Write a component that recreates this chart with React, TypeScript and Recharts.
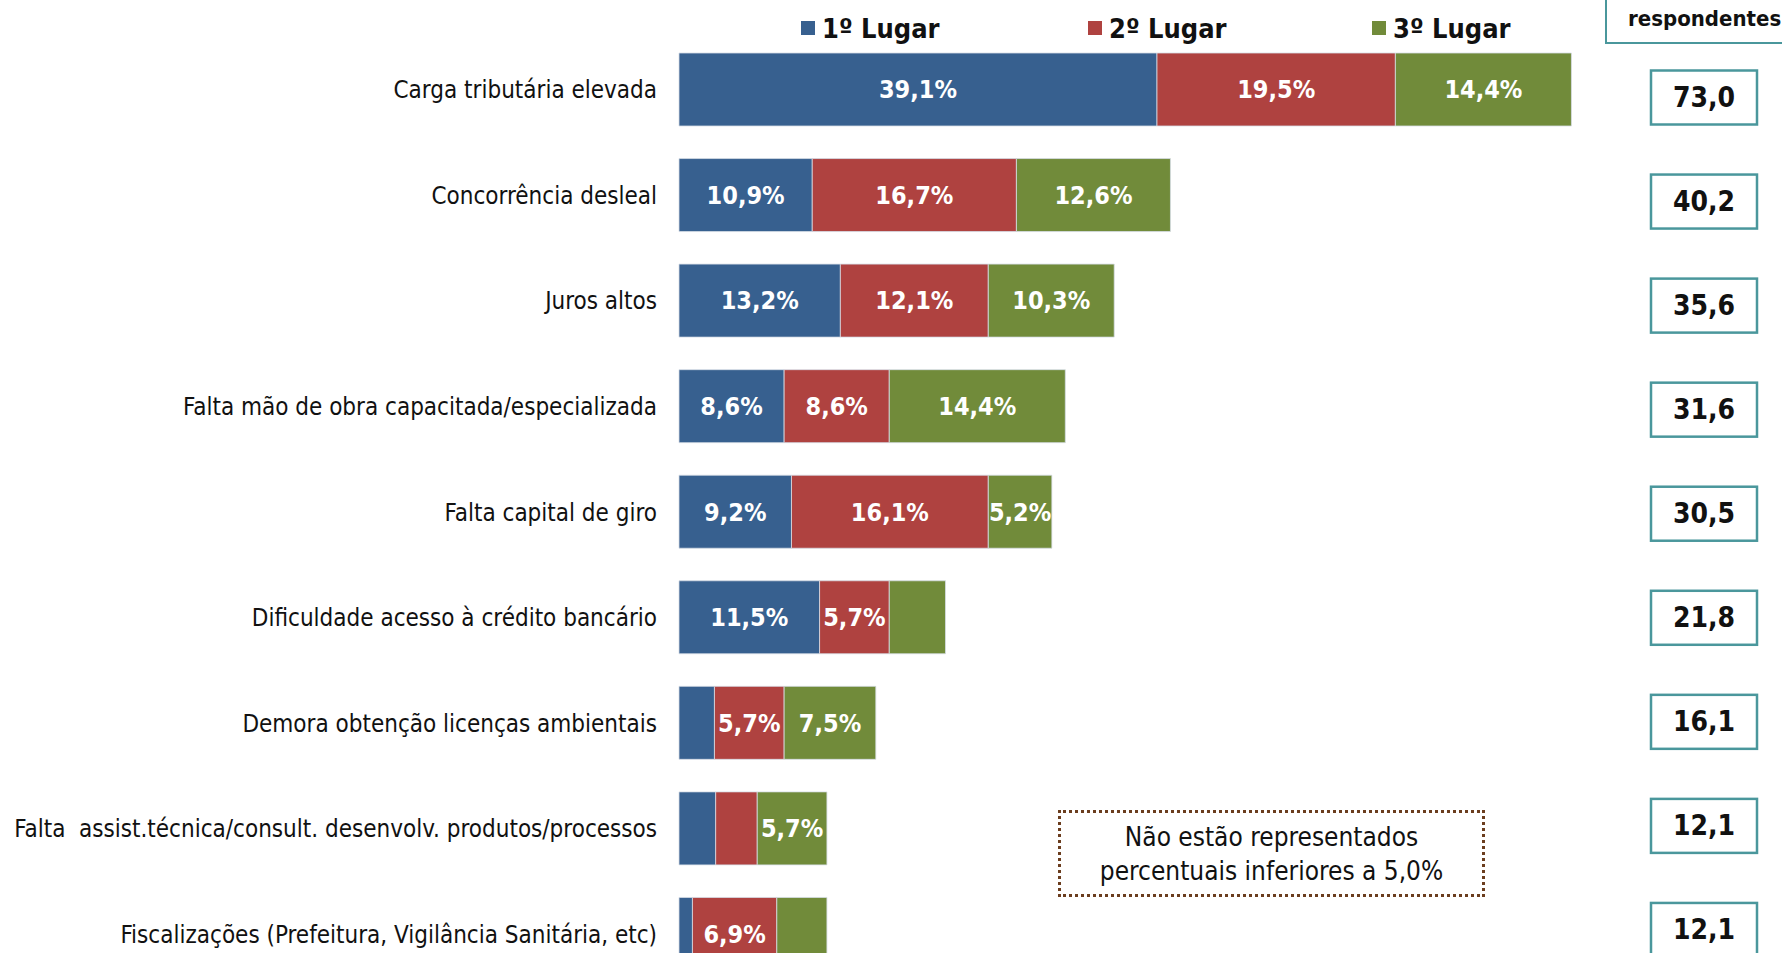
import { Bar, BarChart, LabelList, XAxis, YAxis } from 'recharts'

const categories = [
  'Carga tributária elevada',
  'Concorrência desleal',
  'Juros altos',
  'Falta mão de obra capacitada/especializada',
  'Falta capital de giro',
  'Dificuldade acesso à crédito bancário',
  'Demora obtenção licenças ambientais',
  'Falta\u00a0\u00a0assist.técnica/consult. desenvolv. produtos/processos',
  'Fiscalizações (Prefeitura, Vigilância Sanitária, etc)',
]
const primeiro = [39.1, 10.9, 13.2, 8.6, 9.2, 11.5, 2.9, 3.0, 1.1]
const segundo = [19.5, 16.7, 12.1, 8.6, 16.1, 5.7, 5.7, 3.4, 6.9]
const terceiro = [14.4, 12.6, 10.3, 14.4, 5.2, 4.6, 7.5, 5.7, 4.1]
const totais = [73.0, 40.2, 35.6, 31.6, 30.5, 21.8, 16.1, 12.1, 12.1]

const series = [
  { key: 'p1', name: '1º Lugar', color: '#37608f' },
  { key: 'p2', name: '2º Lugar', color: '#af4240' },
  { key: 'p3', name: '3º Lugar', color: '#718b3a' },
]

const data = categories.map((name, i) => ({
  name,
  p1: primeiro[i],
  p2: segundo[i],
  p3: terceiro[i],
  total: totais[i],
}))

const FONT = '"DejaVu Sans Condensed", "DejaVu Sans", sans-serif'
const TEAL = '#4a979c'

const fmt = (v: number) => v.toFixed(1).replace('.', ',')

const pctLabel = (v: unknown) => {
  const n = Number(v)
  return n >= 5 ? `${fmt(n)}%` : ''
}

function TotalBox(props: any) {
  const vb = props.viewBox ?? props
  const idx = Number(props.index ?? 0)
  const cy = vb.y + vb.height / 2 + 8 - 1.5 * idx
  return (
    <g>
      <rect x={1651} y={cy - 27} width={106} height={54} fill="#fff" stroke={TEAL} strokeWidth={2.5} />
      <text
        x={1704}
        y={cy}
        textAnchor="middle"
        dominantBaseline="central"
        fontFamily={FONT}
        fontWeight="bold"
        fontSize={28}
        fill="#111"
      >
        {fmt(Number(props.value))}
      </text>
    </g>
  )
}

const legendX = [801, 1088, 1372]

export default function App() {
  return (
    <div
      style={{
        position: 'absolute',
        left: 0,
        top: 0,
        width: 1782,
        height: 953,
        overflow: 'hidden',
        background: '#fff',
        fontFamily: FONT,
      }}
    >
      <BarChart
        width={1782}
        height={1000}
        data={data}
        layout="vertical"
        margin={{ top: 37, right: 125, bottom: 13, left: 0 }}
        barSize={73}
      >
        <XAxis type="number" domain={[0, 80]} hide />
        <YAxis
          type="category"
          dataKey="name"
          width={679}
          axisLine={false}
          tickLine={false}
          tickSize={0}
          tickMargin={22}
          interval={0}
          tick={{ fontFamily: FONT, fontSize: 24, fill: '#111' }}
        />
        {series.map((s, si) => (
          <Bar
            key={s.key}
            dataKey={s.key}
            name={s.name}
            stackId="a"
            fill={s.color}
            stroke="#d7dde6"
            strokeWidth={0.8}
            isAnimationActive={false}
          >
            <LabelList
              dataKey={s.key}
              position="center"
              formatter={pctLabel}
              fill="#fff"
              fontFamily={FONT}
              fontWeight="bold"
              fontSize={25}
            />
            {si === series.length - 1 && <LabelList dataKey="total" content={TotalBox} />}
          </Bar>
        ))}
      </BarChart>

      {series.map((s, i) => (
        <div
          key={s.key}
          style={{
            position: 'absolute',
            left: legendX[i],
            top: 10,
            height: 36,
            display: 'flex',
            alignItems: 'center',
            gap: 7,
            fontWeight: 'bold',
            fontSize: 27,
            color: '#111',
          }}
        >
          <span style={{ width: 14, height: 14, background: s.color, display: 'inline-block' }} />
          <span>{s.name}</span>
        </div>
      ))}

      <div
        style={{
          position: 'absolute',
          left: 1605,
          top: -40,
          width: 200,
          height: 84,
          border: `2.5px solid ${TEAL}`,
          boxSizing: 'border-box',
        }}
      />
      <div
        style={{
          position: 'absolute',
          left: 1628,
          top: 6,
          fontWeight: 'bold',
          fontSize: 22,
          color: '#111',
          whiteSpace: 'nowrap',
        }}
      >
        respondentes
      </div>

      <div
        style={{
          position: 'absolute',
          left: 1058,
          top: 810,
          width: 427,
          height: 87,
          border: '3px dotted #6b3d1e',
          boxSizing: 'border-box',
          display: 'flex',
          flexDirection: 'column',
          alignItems: 'center',
          justifyContent: 'center',
          fontSize: 26,
          lineHeight: '34px',
          color: '#111',
          textAlign: 'center',
        }}
      >
        <div>Não estão representados</div>
        <div>percentuais inferiores a 5,0%</div>
      </div>
    </div>
  )
}
